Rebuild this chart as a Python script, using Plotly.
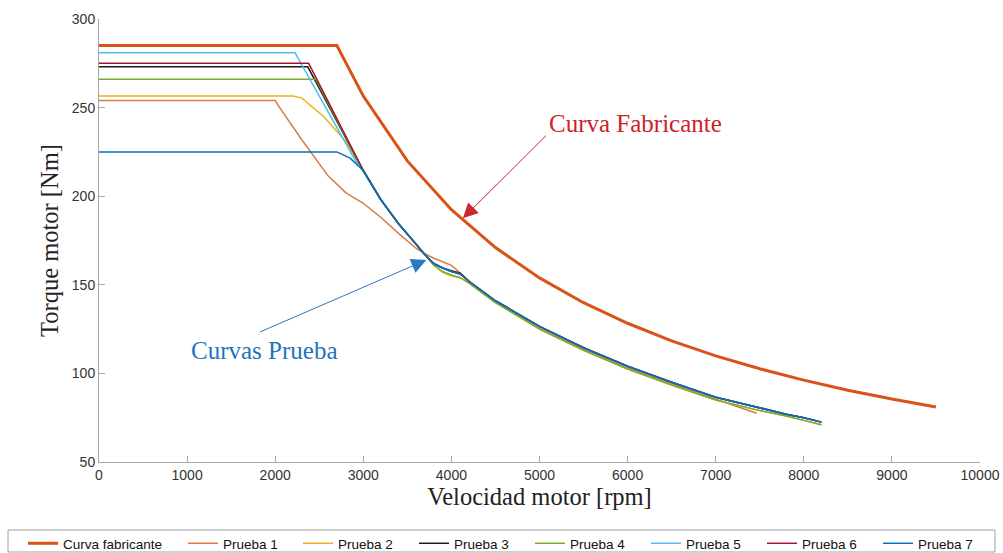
import plotly.graph_objects as go

# Manufacturer torque curve (constant torque, then constant power)
fab_x = [0, 2700, 3000, 3500, 4000, 4500, 5000, 5500, 6000, 6500, 7000, 7500, 8000, 8500, 9000, 9500]
fab_y = [285, 285, 256.5, 219.9, 192.4, 171.0, 153.9, 139.9, 128.3, 118.4, 109.9, 102.6, 96.2, 90.5, 85.5, 81.0]

# Measured test curves
p1_x = [0, 2000, 2050, 2300, 2600, 2800, 3000, 3200, 3400, 3600, 3700, 3800, 3900, 4000, 4060, 4150, 4200,
        4500, 5000, 5500, 6000, 6500, 7000, 7400, 7465]
p1_y = [254, 254, 250, 232, 211.5, 202, 196, 188, 179, 170.5, 167.5, 165, 163, 161, 158.5, 154, 151.5,
        140.5, 125.5, 113.5, 103, 94, 85.5, 79, 77.5]

p2_x = [0, 2200, 2300, 2550, 2800, 2920, 3000, 3200, 3400, 3600, 3700, 3800, 3900, 4000, 4100, 4200,
        4500, 5000, 5500, 6000, 6500, 7000, 7500, 7800, 8000, 8200]
p2_y = [256.5, 256.5, 255.5, 245, 231, 221, 215, 198, 184.5, 172.5, 166.5, 161, 157, 155, 154, 151,
        140, 125, 113, 102.5, 93.5, 85, 79, 76, 73.5, 71]

p3_x = [0, 2370, 3000, 3200, 3400, 3600, 3700, 3800, 3900, 4000, 4100, 4200,
        4500, 5000, 5500, 6000, 6500, 7000, 7500, 7800, 8000, 8200]
p3_y = [273, 273, 214.5, 198, 184.5, 173, 167, 162, 159.5, 158, 156.5, 152,
        141, 126.5, 114.5, 104, 95, 86.5, 80.5, 77, 75, 72.5]

p4_x = [0, 2460, 3000, 3200, 3400, 3600, 3700, 3800, 3900, 4000, 4100, 4200,
        4500, 5000, 5500, 6000, 6500, 7000, 7500, 7800, 8000, 8200]
p4_y = [266, 266, 214.5, 198, 184.5, 172.5, 166.5, 161, 157.5, 155.5, 154, 151,
        140, 125, 113, 102.5, 93.5, 85, 79, 76, 73.5, 71]

p5_x = [0, 2225, 2900, 3000, 3200, 3400, 3600, 3700, 3800, 3900, 4000, 4100, 4200,
        4500, 5000, 5500, 6000, 6500, 7000, 7500, 7800, 8000, 8200]
p5_y = [281, 281, 221, 214, 198, 184.5, 173, 167, 162, 159.5, 157.5, 156, 152,
        141, 126.5, 114.5, 104, 95, 86.5, 80.5, 77, 75, 72.5]

p6_x = [0, 2380, 3000, 3200, 3400, 3600, 3700, 3800, 3900, 4000, 4100, 4200,
        4500, 5000, 5500, 6000, 6500, 7000, 7500, 7800, 8000, 8200]
p6_y = [275, 275, 214.5, 198, 184.5, 173, 167, 162, 159.5, 157.5, 156.5, 152,
        141, 126.5, 114.5, 104, 95, 86.5, 80.5, 77, 75, 72.5]

p7_x = [0, 2700, 2850, 2990, 3200, 3400, 3600, 3700, 3800, 3900, 4000, 4100, 4200,
        4500, 5000, 5500, 6000, 6500, 7000, 7500, 7800, 8000, 8200]
p7_y = [225, 225, 221.5, 215, 198, 184.5, 173, 167, 162, 159.5, 157.5, 156, 152,
        141, 126.5, 114.5, 104, 95, 86.5, 80.5, 77, 75, 72.5]

x_ticks = [0, 1000, 2000, 3000, 4000, 5000, 6000, 7000, 8000, 9000, 10000]
x_ticklabels = ["0", "1000", "2000", "3000", "4000", "5000", "6000", "7000", "8000", "9000", "10000"]
y_ticks = [50, 100, 150, 200, 250, 300]

names = ["Curva fabricante", "Prueba 1", "Prueba 2", "Prueba 3", "Prueba 4", "Prueba 5", "Prueba 6", "Prueba 7"]
colors = ["#D95319", "#DA7A45", "#EDB120", "#1A1A1A", "#77AC30", "#4DBEEE", "#A2142F", "#0072BD"]
widths = [3, 1.5, 1.5, 1.5, 1.5, 1.5, 1.5, 1.5]

xs = [fab_x, p1_x, p2_x, p3_x, p4_x, p5_x, p6_x, p7_x]
ys = [fab_y, p1_y, p2_y, p3_y, p4_y, p5_y, p6_y, p7_y]

W, H = 1003, 553
# left edge (px) of each legend entry along the bottom legend strip
legend_px = [23, 183, 298, 414, 530, 646, 762, 878]

serif = "Liberation Serif, Times New Roman, serif"
sans = "Liberation Sans, Arial, sans-serif"

fig = go.Figure()
legend_layouts = {}
for i, (name, x, y, c, w) in enumerate(zip(names, xs, ys, colors, widths)):
    key = "legend" if i == 0 else f"legend{i + 1}"
    fig.add_trace(go.Scatter(x=x, y=y, mode="lines", name=name,
                             line=dict(color=c, width=w), legend=key))
    legend_layouts[key] = dict(orientation="h", xref="container", yref="container",
                               x=legend_px[i] / W, y=(H - 528) / H,
                               xanchor="left", yanchor="top", borderwidth=0,
                               bgcolor="rgba(0,0,0,0)",
                               font=dict(family=sans, size=13.5, color="#111111"))

# Callout labels with arrows
fig.add_annotation(x=4130, y=187.5, ax=5090, ay=235, xref="x", yref="y", axref="x", ayref="y",
                   text="", showarrow=True, arrowhead=2, arrowsize=3, arrowwidth=1,
                   arrowcolor="#C8282E")
fig.add_annotation(x=6085, y=241, xref="x", yref="y", text="Curva Fabricante", showarrow=False,
                   font=dict(family=serif, size=25, color="#D0202A"))
fig.add_annotation(x=3715, y=164, ax=1810, ay=123, xref="x", yref="y", axref="x", ayref="y",
                   text="", showarrow=True, arrowhead=2, arrowsize=3, arrowwidth=1,
                   arrowcolor="#2A78C0")
fig.add_annotation(x=1880, y=113, xref="x", yref="y", text="Curvas Prueba", showarrow=False,
                   font=dict(family=serif, size=25, color="#1E73BA"))

axis_common = dict(showline=True, linecolor="#A6A6A6", linewidth=1, ticks="inside", ticklen=6,
                   tickcolor="#A6A6A6", showgrid=False, zeroline=False, mirror=False,
                   tickfont=dict(family=sans, size=14, color="#333333"))

fig.update_xaxes(range=[0, 10000], tickvals=x_ticks, ticktext=x_ticklabels,
                 title=dict(text="Velocidad motor [rpm]", font=dict(family=serif, size=24.5, color="#222222"),
                            standoff=5),
                 **axis_common)
fig.update_yaxes(range=[50, 300], tickvals=y_ticks,
                 title=dict(text="Torque motor [Nm]", font=dict(family=serif, size=24.5, color="#222222"),
                            standoff=6),
                 **axis_common)

ml, mr, mt, mb = 99, 23, 19, 91
pw, ph = W - ml - mr, H - mt - mb

# frame around the legend strip
fig.add_shape(type="rect", xref="paper", yref="paper",
              x0=(8 - ml) / pw, x1=(995 - ml) / pw,
              y0=(H - mb - 552) / ph, y1=(H - mb - 530) / ph,
              line=dict(color="#A0A0A0", width=1), fillcolor="rgba(0,0,0,0)")

fig.update_layout(
    width=W, height=H,
    margin=dict(l=ml, r=mr, t=mt, b=mb, autoexpand=False),
    plot_bgcolor="white", paper_bgcolor="white",
    showlegend=True,
    **legend_layouts,
)

fig.write_html("out.html")
